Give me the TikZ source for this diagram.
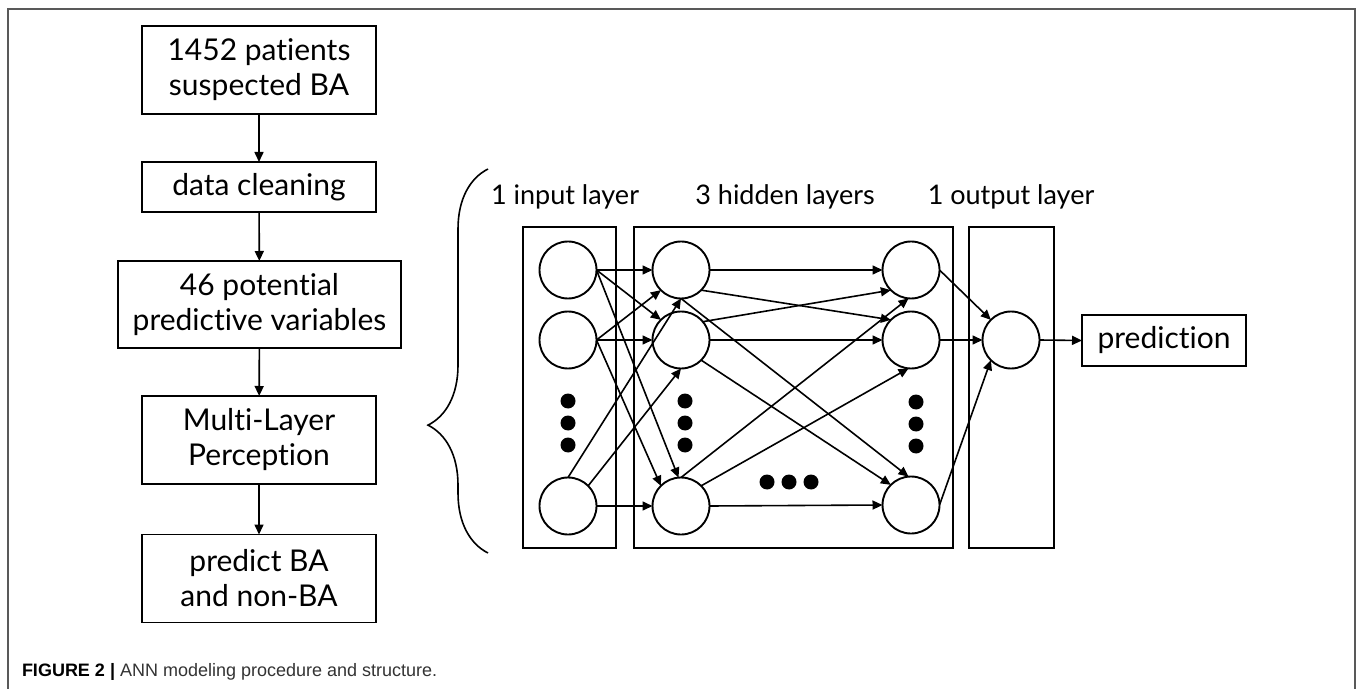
\documentclass[tikz,border=0pt]{standalone}
\usepackage{fontspec}
\setmainfont{Lato}[Ligatures=NoCommon]
\newfontfamily\capfont{Liberation Sans}
\usetikzlibrary{arrows.meta,decorations.pathreplacing}

\begin{document}
\begin{tikzpicture}[x=0.5pt,y=-0.5pt,inner sep=0pt,outer sep=0pt,line width=0.8pt,
>={Triangle[length=5pt,width=4.5pt]},
flowbox/.style={draw,rectangle,align=center,minimum width=117pt,minimum height=44pt,line width=0.9pt,font=\fontsize{15}{17.5}\selectfont},
neuron/.style={draw,circle,minimum size=28.5pt,line width=0.95pt},
layerbox/.style={draw,line width=0.9pt},
layerlabel/.style={anchor=base,font=\fontsize{13.5}{16}\selectfont}]
\useasboundingbox (0,0) rectangle (1358,689);
\draw[black!65,line width=1pt] (8,689) -- (8,9) -- (1355,9) -- (1355,689);

% modeling procedure
\draw (259,70) node[flowbox] (pat) {1452 patients\\suspected BA};
\draw (259,187) node[flowbox,minimum height=25pt] (clean) {data cleaning};
\draw (259.5,304.5) node[flowbox,minimum width=141.5pt,minimum height=43.5pt] (vars) {46 potential\\predictive variables};
\draw (259,440) node[flowbox] (mlp) {Multi-Layer\\Perception};
\draw (259,578.5) node[flowbox] (res) {predict BA\\and non-BA};
\draw[->] (pat) -- (clean);
\draw[->] (clean) -- (vars);
\draw[->] (vars) -- (mlp);
\draw[->] (mlp) -- (res);

\draw[decorate,decoration={brace,amplitude=30pt,aspect=0.333}] (488,553) -- (488,169);

% layers
\draw[layerbox] (523,227) rectangle (616,548);
\draw[layerbox] (634,227) rectangle (953,548);
\draw[layerbox] (969,227) rectangle (1054,548);
\draw (565,205) node[layerlabel] {1 input layer};
\draw (785,205) node[layerlabel] {3 hidden layers};
\draw (1011,205) node[layerlabel] {1 output layer};

\draw (568,270) node[neuron] (in1) {};
\draw (568,340) node[neuron] (in2) {};
\draw (568,506) node[neuron] (in3) {};
\draw (681,270) node[neuron] (hA1) {};
\draw (681,340) node[neuron] (hA2) {};
\draw (681,506) node[neuron] (hA3) {};
\draw (911,270) node[neuron] (hC1) {};
\draw (911,340) node[neuron] (hC2) {};
\draw (911,505) node[neuron] (hC3) {};
\draw (1011,340) node[neuron] (out) {};
\draw (1164,340.5) node[flowbox,minimum width=82pt,minimum height=25.5pt] (pred) {prediction};

% dots
\fill (568,401) circle (3.75pt) (568,423) circle (3.75pt) (568,445) circle (3.75pt);
\fill (685,401) circle (3.75pt) (685,423) circle (3.75pt) (685,445) circle (3.75pt);
\fill (916,402) circle (3.75pt) (916,424) circle (3.75pt) (916,446) circle (3.75pt);
\fill (767,482) circle (3.75pt) (789,482) circle (3.75pt) (811,482) circle (3.75pt);

% input -> first hidden
\draw[->] (in1.east) -- (hA1.west);
\draw[->] (in1.east) -- (hA2.135);
\draw[->] (in1.east) -- (hA3.95);
\draw[->] (in2.east) -- (hA1.225);
\draw[->] (in2.east) -- (hA2.west);
\draw[->] (in2.east) -- (hA3.135);
\draw[->] (in3.north) -- (hA1.south);
\draw[->] (in3.45) -- (hA2.south);
\draw[->] (in3.east) -- (hA3.west);

% first hidden -> last hidden
\draw[->] (hA1.east) -- (hC1.west);
\draw[->] (hA1.-45) -- (hC2.135);
\draw[->] (hA1.south) -- (hC3.95);
\draw[->] (hA2.40) -- (hC1.225);
\draw[->] (hA2.east) -- (hC2.west);
\draw[->] (hA2.-45) -- (hC3.135);
\draw[->] (hA3.north) -- (hC1.265);
\draw[->] (hA3.45) -- (hC2.265);
\draw[->] (hA3.east) -- (hC3.west);

% last hidden -> output
\draw[->] (hC1.east) -- (out.135);
\draw[->] (hC2.east) -- (out.west);
\draw[->] (hC3.east) -- (out.225);
\draw[->] (out.east) -- (pred.west);

\draw (22,676) node[anchor=base west,font=\capfont\fontsize{9}{11}\selectfont,text=black!80] (cap) {\textbf{\color{black}FIGURE 2 |} ANN modeling procedure and structure.};
\end{tikzpicture}
\end{document}
